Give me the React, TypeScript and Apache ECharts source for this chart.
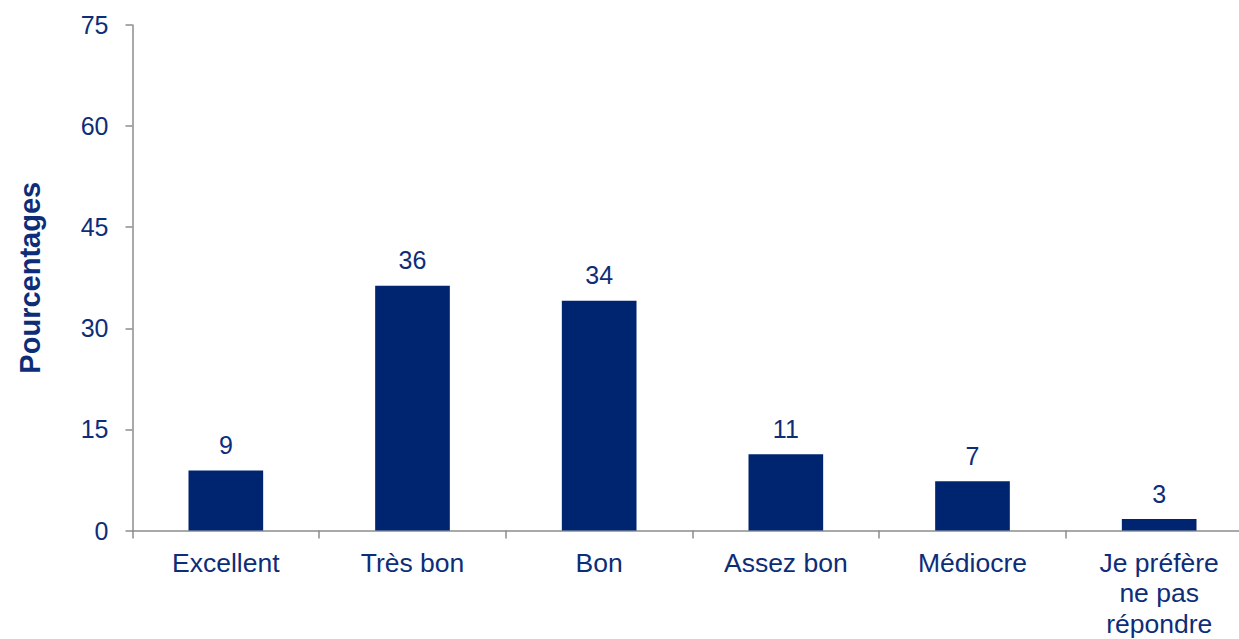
import React, { useEffect, useRef } from "react";
import * as echarts from "echarts";

const categories = ["Excellent", "Très bon", "Bon", "Assez bon", "Médiocre", "Je préfère\nne pas\nrépondre"];
const values = [8.9, 36.3, 34.1, 11.3, 7.3, 1.7];
const valueLabels = ["9", "36", "34", "11", "7", "3"];
const yTicks = { min: 0, max: 75, interval: 15 };
const yAxisTitle = "Pourcentages";

const NAVY = "#002570";
const TEXT = "#0d2d78";
const FONT = "Liberation Sans, Arial, sans-serif";

export default function App() {
  const ref = useRef<HTMLDivElement>(null);
  useEffect(() => {
    if (!ref.current) return;
    const chart = echarts.init(ref.current, null, { renderer: "svg" });
    chart.setOption({
      animation: false,
      grid: { left: 132.5, top: 25, width: 1120, height: 509.5 },
      xAxis: {
        type: "category",
        data: categories,
        axisLine: { lineStyle: { color: "#8c8c8c", width: 1.5 } },
        axisTick: { show: true, length: 8, lineStyle: { color: "#8c8c8c", width: 1.5 } },
        axisLabel: {
          color: TEXT,
          fontFamily: FONT,
          fontSize: 26.5,
          lineHeight: 30.5,
          margin: 17,
          interval: 0,
        },
      },
      yAxis: {
        type: "value",
        min: yTicks.min,
        max: yTicks.max,
        interval: yTicks.interval,
        name: yAxisTitle,
        nameLocation: "middle",
        nameGap: 88,
        nameRotate: 90,
        nameTextStyle: {
          color: TEXT,
          fontFamily: FONT,
          fontSize: 29,
          fontWeight: "bold",
        },
        splitLine: { show: false },
        axisLine: { show: true, lineStyle: { color: "#8c8c8c", width: 1.5 } },
        axisTick: { show: true, length: 7, lineStyle: { color: "#8c8c8c", width: 1.5 } },
        axisLabel: {
          color: TEXT,
          fontFamily: FONT,
          fontSize: 25,
          margin: 24,
        },
      },
      series: [
        {
          type: "bar",
          data: values,
          barWidth: "40%",
          itemStyle: { color: NAVY },
          label: {
            show: true,
            position: "top",
            distance: 13,
            color: TEXT,
            fontFamily: FONT,
            fontSize: 25,
            formatter: (p: any) => valueLabels[p.dataIndex],
          },
        },
      ],
    });
    return () => chart.dispose();
  }, []);
  return (
    <div style={{ position: "fixed", left: 0, top: 0, width: 1239, height: 639, overflow: "hidden", background: "#fff" }}>
      <div ref={ref} style={{ width: 1270, height: 639 }} />
    </div>
  );
}
